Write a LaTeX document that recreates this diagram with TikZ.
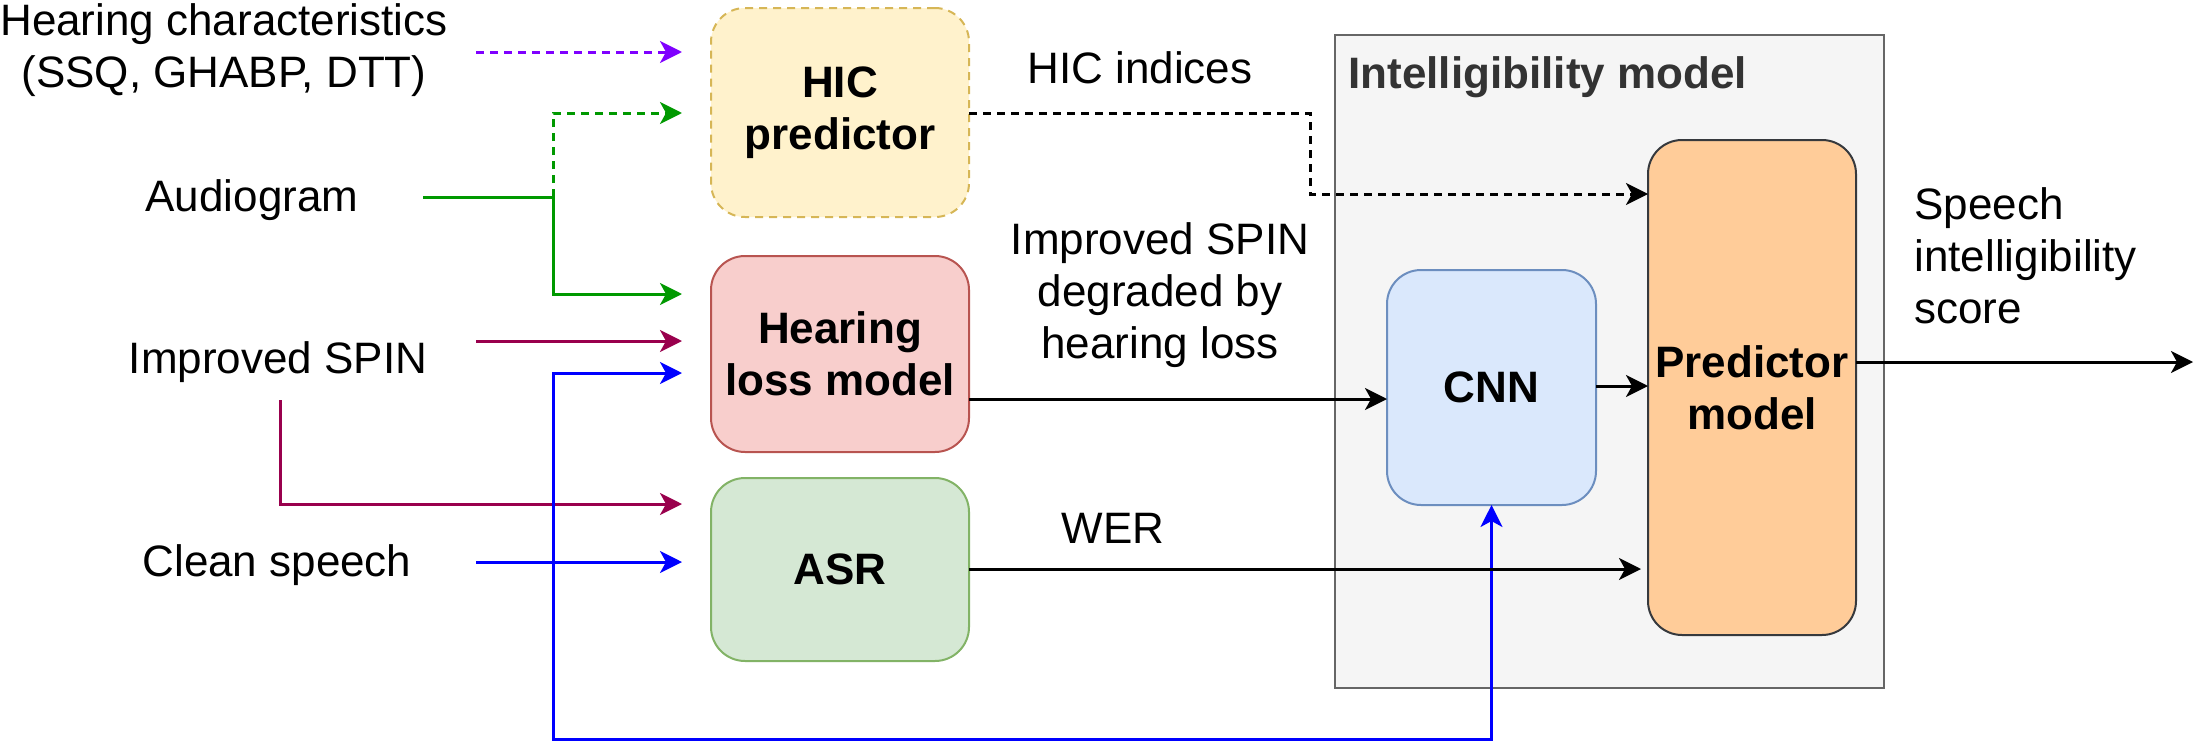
\documentclass[tikz,border=0pt]{standalone}
\usepackage{fontspec}
\setmainfont{Liberation Sans}
\usetikzlibrary{arrows.meta,calc}
\definecolor{hicfill}{HTML}{FFF2CC}
\definecolor{hicdraw}{HTML}{D6B656}
\definecolor{hlfill}{HTML}{F8CECC}
\definecolor{hldraw}{HTML}{B85450}
\definecolor{asrfill}{HTML}{D5E8D4}
\definecolor{asrdraw}{HTML}{82B366}
\definecolor{cnnfill}{HTML}{DAE8FC}
\definecolor{cnndraw}{HTML}{6C8EBF}
\definecolor{predfill}{HTML}{FFCC99}
\definecolor{preddraw}{HTML}{36393D}
\definecolor{grpfill}{HTML}{F5F5F5}
\definecolor{grpdraw}{HTML}{666666}
\definecolor{grptext}{HTML}{333333}
\definecolor{cviolet}{HTML}{7F00FF}
\definecolor{cgreen}{HTML}{009900}
\definecolor{cmaroon}{HTML}{99004D}
\definecolor{cblue}{HTML}{0000FF}
\begin{document}
\begin{tikzpicture}[x=0.5pt,y=-0.5pt,
  txt/.style={font=\fontsize{22}{26}\selectfont, inner sep=0pt, align=center},
  blk/.style={rounded corners=17pt, line width=1pt, inner sep=0pt, outer sep=0pt,
    align=center, font=\bfseries\fontsize{22}{26}\selectfont},
  conn/.style={line width=1.5pt, -{Stealth[length=11pt,width=11pt,inset=3pt]}},
  plain/.style={line width=1.5pt},
  dsh/.style={dash pattern=on 4pt off 3pt}]
\useasboundingbox (0,0) rectangle (2195,744);

% intelligibility model group
\node[draw=grpdraw, fill=grpfill, line width=1pt, minimum width=274.5pt,
  minimum height=326.5pt, inner sep=0pt, outer sep=0pt] (grp) at (1609.5,361.5) {};
\node[txt, anchor=west, text=grptext, font=\bfseries\fontsize{22}{26}\selectfont]
  (grplbl) at (1348,77) {Intelligibility model};

% processing blocks
\node[blk, draw=hicdraw, fill=hicfill, dsh, minimum width=129pt, minimum height=104.5pt]
  (hic) at (840,112.5) {HIC\\predictor};
\node[blk, draw=hldraw, fill=hlfill, minimum width=129pt, minimum height=98pt]
  (hl) at (840,354) {Hearing\\loss model};
\node[blk, draw=asrdraw, fill=asrfill, minimum width=129pt, minimum height=91.5pt]
  (asr) at (840,569.5) {ASR};
\node[blk, draw=cnndraw, fill=cnnfill, minimum width=104.5pt, minimum height=117.5pt]
  (cnn) at (1491.5,387.5) {CNN};
\node[blk, draw=preddraw, fill=predfill, minimum width=104pt, minimum height=247.5pt]
  (pred) at (1752,387.5) {Predictor\\model};

% input and output labels
\node[txt] (hch) at (224,50) {Hearing characteristics\\(SSQ, GHABP, DTT)};
\node[txt] (aud) at (252,200) {Audiogram};
\node[txt] (spin) at (278,362) {Improved SPIN};
\node[txt] (clean) at (277,565) {Clean speech};
\node[txt] (hicidx) at (1140,68) {HIC indices};
\node[txt] (degr) at (1160,295) {Improved SPIN\\degraded by\\hearing loss};
\node[txt] (wer) at (1113,528) {WER};
\node[txt, anchor=west, align=left] (score) at (1914,256) {Speech\\intelligibility\\score};

% connector end points
\coordinate (hchS) at (476,52);   \coordinate (hchE) at (682,52);
\coordinate (audS) at (423,197);  \coordinate (audJ) at (553,197);
\coordinate (hicIn) at (682,113); \coordinate (hlInA) at (682,294);
\coordinate (spinS) at (476,341); \coordinate (hlInB) at (682,341);
\coordinate (spinD) at (280,400); \coordinate (asrInA) at (682,504);
\coordinate (cleanS) at (476,562); \coordinate (cleanJ) at (553,562);
\coordinate (asrInB) at (682,562);
\coordinate (hlInC) at (682,373); \coordinate (loop) at (553,739);
\coordinate (hicOut) at (969,113); \coordinate (hicBend) at (1310,113);
\coordinate (predInA) at (1648,194);
\coordinate (hlOut) at (969,399);
\coordinate (asrOut) at (969,569); \coordinate (predInC) at (1641,569);
\coordinate (cnnOut) at (1596,386);
\coordinate (predOut) at (1856,362); \coordinate (outE) at (2193,362);

% inputs
\draw[conn, dsh, cviolet] (hchS) -- (hchE);
\draw[plain, cgreen] (audS) -- (audJ);
\draw[conn, dsh, cgreen] (audJ) |- (hicIn);
\draw[conn, cgreen] (audJ) |- (hlInA);
\draw[conn, cmaroon] (spinS) -- (hlInB);
\draw[conn, cmaroon] (spinD) |- (asrInA);
\draw[conn, cblue] (cleanS) -- (asrInB);
\draw[conn, cblue] (cleanJ) |- (hlInC);
\draw[conn, cblue] (cleanJ) -- (loop) -| (cnn.south);

% block outputs
\draw[conn, dsh] (hicOut) -- (hicBend) |- (predInA);
\draw[conn] (hlOut) -- (cnn.west |- hlOut);
\draw[conn] (asrOut) -- (predInC);
\draw[conn] (cnnOut) -- (pred.west |- cnnOut);
\draw[conn] (predOut) -- (outE);
\end{tikzpicture}
\end{document}
